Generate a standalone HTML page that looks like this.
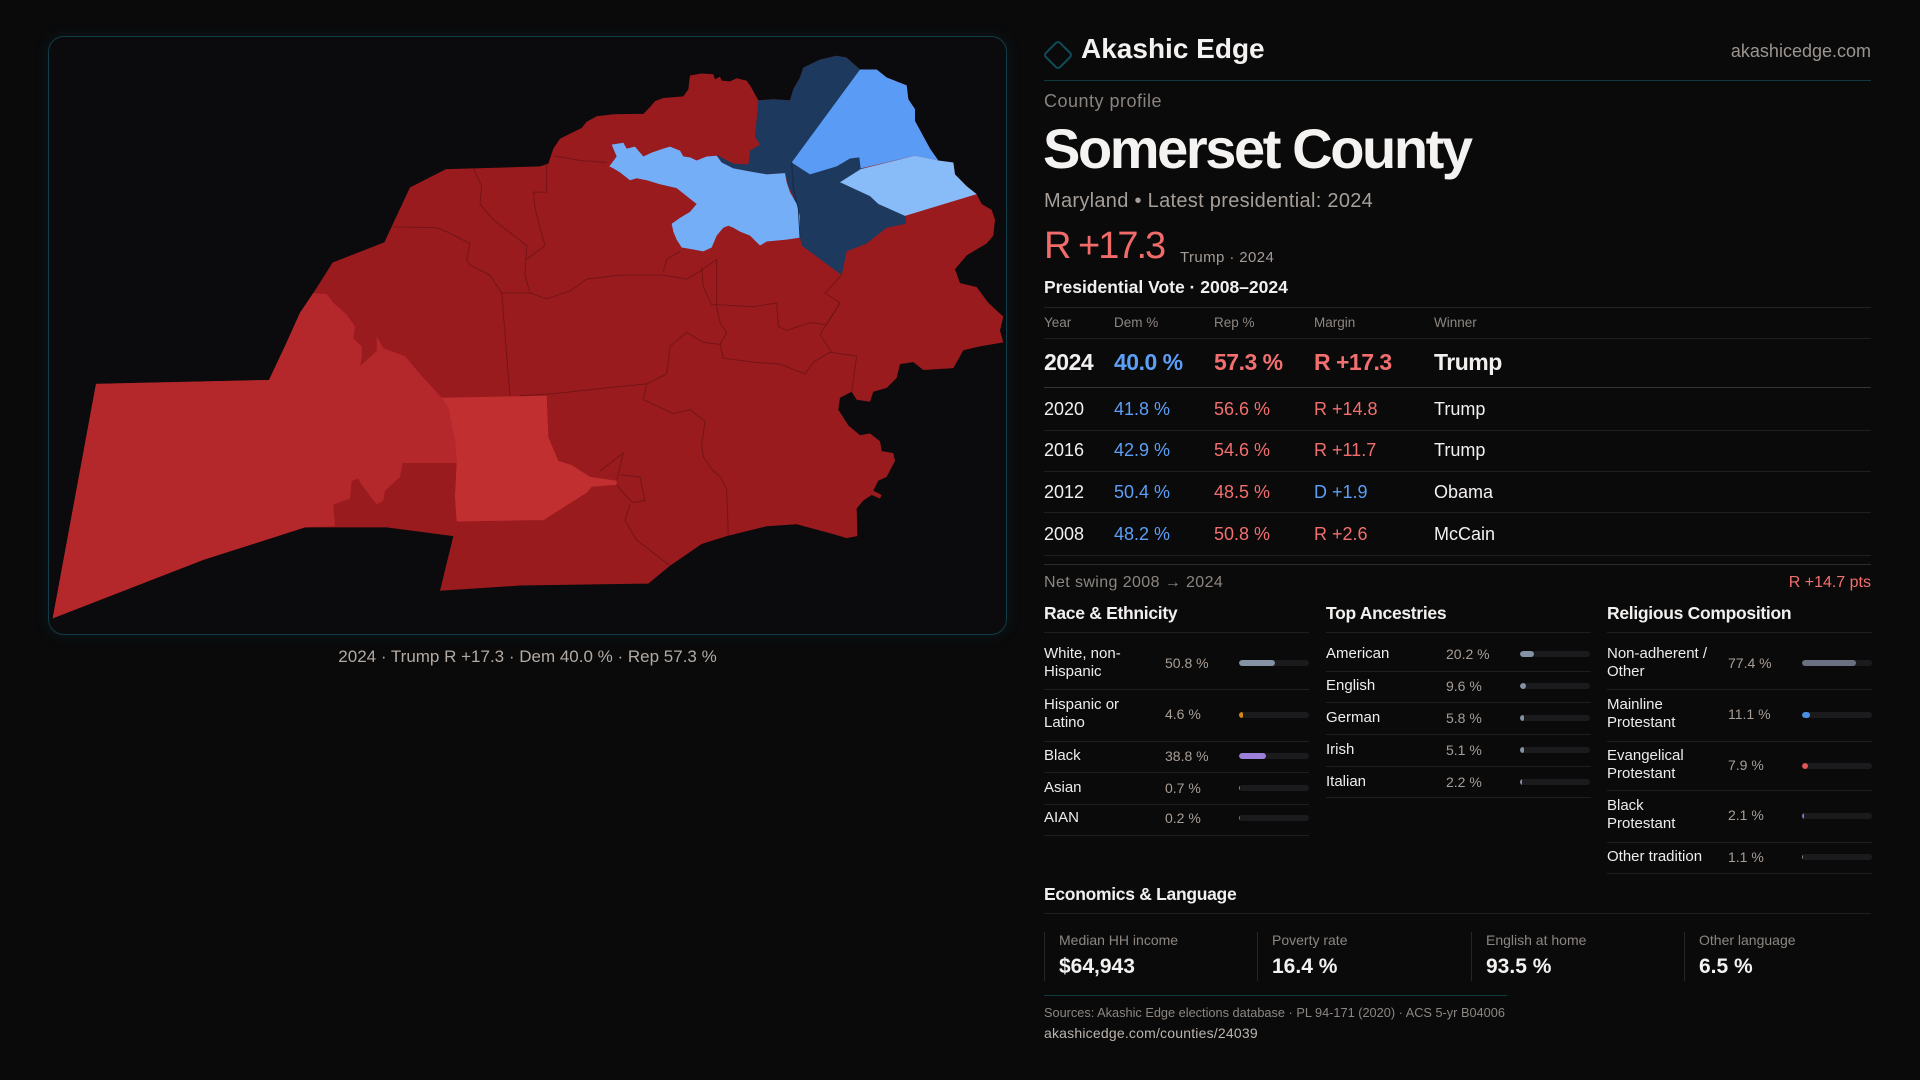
<!DOCTYPE html>
<html>
<head>
<meta charset="utf-8">
<style>
  html,body{margin:0;padding:0;}
  body{width:1920px;height:1080px;background:#0a0a0b;position:relative;overflow:hidden;font-family:"Liberation Sans",Arial,sans-serif;color:#f2f0ee;}
  .t{position:absolute;white-space:nowrap;line-height:1;}
  .hl{position:absolute;height:1px;}
  .panel{position:absolute;left:48px;top:36px;width:957px;height:597px;border:1px solid #103d47;border-radius:16px;background:#0b0a0c;box-shadow:0 0 14px rgba(16,70,80,0.25);}
  .hdr{font-size:13.5px;color:#8d8680;top:315.6px;}
  .r24{font-size:23px;font-weight:bold;top:350.5px;letter-spacing:-0.5px;}
  .row{font-size:18px;}
  .w{color:#f2f0ee;} .b{color:#5d9ff6;} .r{color:#f26f6f;}
  .sec{font-size:17.5px;font-weight:bold;color:#f2f0ee;letter-spacing:-0.3px;top:604.8px;}
  .lab{position:absolute;font-size:15px;line-height:18.5px;color:#efedeb;white-space:nowrap;}
  .val{position:absolute;font-size:14px;line-height:18.5px;color:#a89e96;white-space:nowrap;}
  .trk{position:absolute;width:70px;height:6px;border-radius:3px;background:#1b1b1e;overflow:hidden;}
  .fil{position:absolute;left:0;top:0;height:6px;border-radius:3px;}
  .sep{position:absolute;height:1px;width:265px;background:#1f1f21;}
  .card{position:absolute;top:932px;height:49px;width:1px;background:#262628;}
  .clab{font-size:14px;color:#8d8680;top:933px;}
  .cval{font-size:21px;font-weight:bold;color:#f4f2f0;top:956.2px;}
</style>
</head>
<body>

<div class="panel"></div>

<svg style="position:absolute;left:0;top:0" width="1920" height="1080" viewBox="0 0 1920 1080">
  <g transform="translate(40,30) scale(0.333333,0.395413)">
    <!-- base dark red -->
    <path fill="#991b1e" d="M38,1488 L168,895 L687,885 L740,790 L780,715 L820,665 L878,588 L1033,537 L1110,398 L1218,352 L1300,350 L1500,345 L1525,338 L1540,300 L1560,275 L1590,262 L1625,248 L1640,232 L1670,218 L1720,213 L1810,212 L1830,195 L1845,180 L1870,172 L1930,168 L1945,150 L1950,115 L1985,110 L2020,112 L2025,125 L2040,118 L2045,128 L2070,130 L2090,122 L2120,128 L2130,140 L2140,155 L2155,178 L2200,175 L2250,178 L2260,150 L2280,120 L2290,95 L2340,75 L2390,65 L2420,70 L2460,100 L2510,100 L2540,120 L2600,140 L2605,175 L2625,200 L2625,230 L2670,300 L2695,330 L2740,335 L2745,365 L2780,395 L2810,415 L2825,440 L2855,455 L2865,480 L2860,520 L2840,540 L2780,570 L2745,605 L2760,640 L2810,650 L2845,690 L2890,725 L2880,760 L2890,790 L2820,800 L2770,810 L2740,855 L2650,860 L2620,840 L2580,845 L2570,880 L2540,905 L2500,915 L2490,940 L2450,935 L2435,915 L2400,930 L2395,960 L2425,1000 L2460,1025 L2490,1020 L2520,1040 L2525,1065 L2560,1070 L2565,1090 L2540,1130 L2515,1140 L2500,1165 L2525,1176 L2520,1185 L2495,1176 L2470,1190 L2450,1210 L2452,1280 L2420,1285 L2380,1275 L2270,1250 L2180,1255 L2060,1280 L1985,1300 L1890,1355 L1825,1400 L1440,1405 L1200,1418 L1240,1280 L1040,1258 L795,1258 L490,1340 Z"/>
    <!-- medium red west -->
    <path fill="#b4282b" d="M38,1488 L168,895 L687,885 L740,790 L780,715 L820,665 L860,668 L880,690 L920,720 L945,750 L940,780 L965,800 L965,830 L960,850 L1010,812 L1010,775 L1030,805 L1095,825 L1140,870 L1205,930 L1225,955 L1245,1040 L1250,1095 L1088,1095 L1080,1130 L1035,1165 L1030,1190 L1010,1200 L965,1150 L955,1135 L935,1140 L930,1185 L880,1200 L885,1255 L795,1258 L490,1340 Z"/>
    <!-- light red center -->
    <path fill="#c22f31" d="M1205,930 L1520,925 L1525,1030 L1555,1090 L1595,1100 L1650,1130 L1730,1140 L1730,1150 L1655,1155 L1640,1170 L1510,1240 L1460,1240 L1250,1243 L1245,1180 L1250,1095 L1245,1040 L1225,955 Z"/>
    <!-- navy -->
    <path fill="#1e395e" d="M2155,178 L2200,175 L2250,178 L2260,150 L2280,120 L2290,95 L2340,75 L2390,65 L2420,70 L2460,100 L2470,380 L2595,450 L2598,490 L2540,500 L2480,540 L2420,560 L2405,620 L2285,545 L2280,525 L2275,460 L2260,420 L2245,395 L2235,362 L2180,365 L2130,358 L2080,350 L2045,335 L2030,315 L2050,325 L2080,338 L2125,340 L2130,305 L2160,290 L2145,270 Z"/>
    <!-- bright blue -->
    <path fill="#5a9bf5" d="M2460,100 L2510,100 L2540,120 L2600,140 L2605,175 L2625,200 L2625,230 L2670,300 L2695,330 L2625,318 L2462,350 L2458,322 L2430,325 L2390,345 L2310,365 L2255,335 Z"/>
    <!-- east light strip -->
    <path fill="#87bcf8" d="M2625,318 L2695,330 L2740,335 L2745,365 L2780,395 L2810,415 L2595,470 L2515,440 L2490,420 L2400,385 L2462,352 Z"/>
    <!-- river light blue -->
    <path fill="#73aef7" d="M1715,290 L1750,285 L1760,300 L1785,295 L1810,320 L1835,310 L1870,300 L1890,295 L1920,305 L1930,320 L1950,322 L1970,330 L2000,320 L2030,318 L2045,335 L2080,350 L2130,358 L2180,365 L2235,362 L2240,385 L2250,410 L2270,440 L2280,470 L2280,525 L2240,530 L2180,535 L2160,545 L2130,520 L2100,510 L2080,500 L2065,495 L2050,500 L2030,520 L2015,550 L1990,560 L1960,555 L1925,550 L1910,530 L1900,510 L1895,490 L1920,475 L1950,460 L1970,440 L1940,420 L1910,400 L1860,390 L1820,380 L1790,375 L1770,380 L1740,360 L1720,350 L1708,345 L1730,320 Z"/>
    <!-- internal boundaries -->
    <g fill="none" stroke="#6e1316" stroke-width="1" vector-effect="non-scaling-stroke" stroke-opacity="0.85">
      <path vector-effect="non-scaling-stroke" d="M1060,498 L1190,500 L1220,510 L1290,540 L1280,580 L1290,595 L1350,620 L1385,665 L1410,925"/>
      <path vector-effect="non-scaling-stroke" d="M1300,350 L1325,395 L1320,440 L1360,480 L1460,545 L1455,620 L1470,665 L1385,665"/>
      <path vector-effect="non-scaling-stroke" d="M1470,665 L1520,680 L1590,660 L1640,630 L1740,620 L1870,620 L1940,630 L1980,610 L2030,580"/>
      <path vector-effect="non-scaling-stroke" d="M1985,600 L1990,650 L2015,695 L2040,695 L2140,700 L2210,690 L2215,750 L2240,760 L2310,740 L2360,745 L2400,690 L2355,665 L2405,620"/>
      <path vector-effect="non-scaling-stroke" d="M2030,580 L2030,700 L2040,740 L2060,765 L2040,795 L2050,830 L2140,840 L2220,845 L2295,870 L2320,840 L2370,815 L2450,825 L2435,915"/>
      <path vector-effect="non-scaling-stroke" d="M1440,925 L1540,920 L1700,905 L1820,895 L1880,870 L1890,800 L1940,765 L1990,790 L2040,795"/>
      <path vector-effect="non-scaling-stroke" d="M1820,895 L1810,935 L1900,970 L1950,960 L1995,990 L1985,1050 L1990,1080 L2015,1110 L2040,1130 L2060,1160 L2065,1280"/>
      <path vector-effect="non-scaling-stroke" d="M1730,1140 L1750,1070 L1680,1115 M1730,1150 L1760,1180 L1780,1195 L1815,1190 L1800,1130 L1740,1125 M1770,1200 L1755,1240 L1790,1290 L1890,1355"/>
      <path vector-effect="non-scaling-stroke" d="M2400,690 L2340,770 L2375,815"/>
      <path vector-effect="non-scaling-stroke" d="M1540,318 L1620,330 L1700,335"/>
      <path vector-effect="non-scaling-stroke" d="M1520,338 L1520,410 L1480,410 L1485,450 L1500,500 L1515,545 L1460,580"/>
      <path vector-effect="non-scaling-stroke" d="M1870,610 L1880,580 L1920,560"/>
    </g>
    <path fill="none" stroke="#15294a" stroke-width="1" vector-effect="non-scaling-stroke" d="M2255,335 L2260,400 L2275,450 L2280,525"/>
  </g>
</svg>

<div class="t" style="left:48px;width:959px;text-align:center;top:647.6px;font-size:17px;color:#b3aaa3;">2024 · Trump R +17.3 · Dem 40.0 % · Rep 57.3 %</div>

<!-- Header -->
<svg style="position:absolute;left:1040px;top:37px" width="36" height="36" viewBox="0 0 36 36">
  <rect x="8" y="8" width="20" height="20" rx="3" ry="3" fill="none" stroke="#0f4c57" stroke-width="2" transform="rotate(45 18 18)"/>
</svg>
<div class="t" style="left:1081px;top:35.3px;font-size:28px;font-weight:bold;color:#f4f2f0;">Akashic Edge</div>
<div class="t" style="right:49px;top:41.8px;font-size:18px;color:#9c948e;">akashicedge.com</div>
<div class="hl" style="left:1044px;top:80px;width:827px;background:#0f3a42;"></div>

<div class="t" style="left:1044px;top:91.8px;font-size:18px;color:#8a837e;letter-spacing:0.5px;">County profile</div>
<div class="t" style="left:1043px;top:120.6px;font-size:56px;font-weight:bold;color:#f5f3f1;letter-spacing:-2.4px;">Somerset County</div>
<div class="t" style="left:1044px;top:191px;font-size:20px;color:#a69f99;letter-spacing:0.3px;">Maryland • Latest presidential: 2024</div>
<div class="t" style="left:1044px;top:226.8px;font-size:38px;color:#f16b6b;letter-spacing:-2px;">R +17.3</div>
<div class="t" style="left:1180px;top:250.3px;font-size:15px;color:#a39b95;letter-spacing:0.4px;">Trump · 2024</div>
<div class="t" style="left:1044px;top:279.2px;font-size:17.5px;font-weight:bold;color:#f2f0ee;">Presidential Vote · 2008–2024</div>
<div class="hl" style="left:1044px;top:307px;width:827px;background:#232325;"></div>

<!-- table header -->
<div class="t hdr" style="left:1044px;">Year</div>
<div class="t hdr" style="left:1114px;">Dem %</div>
<div class="t hdr" style="left:1214px;">Rep %</div>
<div class="t hdr" style="left:1314px;">Margin</div>
<div class="t hdr" style="left:1434px;">Winner</div>
<div class="hl" style="left:1044px;top:338px;width:827px;background:#202022;"></div>

<div class="t r24 w" style="left:1044px;">2024</div>
<div class="t r24 b" style="left:1114px;">40.0 %</div>
<div class="t r24 r" style="left:1214px;">57.3 %</div>
<div class="t r24 r" style="left:1314px;">R +17.3</div>
<div class="t r24 w" style="left:1434px;">Trump</div>
<div class="hl" style="left:1044px;top:387px;width:827px;background:#353537;"></div>

<div class="t row w" style="left:1044px;top:399.8px;">2020</div>
<div class="t row b" style="left:1114px;top:399.8px;">41.8 %</div>
<div class="t row r" style="left:1214px;top:399.8px;">56.6 %</div>
<div class="t row r" style="left:1314px;top:399.8px;">R +14.8</div>
<div class="t row w" style="left:1434px;top:399.8px;">Trump</div>
<div class="hl" style="left:1044px;top:430px;width:827px;background:#202022;"></div>

<div class="t row w" style="left:1044px;top:440.8px;">2016</div>
<div class="t row b" style="left:1114px;top:440.8px;">42.9 %</div>
<div class="t row r" style="left:1214px;top:440.8px;">54.6 %</div>
<div class="t row r" style="left:1314px;top:440.8px;">R +11.7</div>
<div class="t row w" style="left:1434px;top:440.8px;">Trump</div>
<div class="hl" style="left:1044px;top:471px;width:827px;background:#202022;"></div>

<div class="t row w" style="left:1044px;top:482.8px;">2012</div>
<div class="t row b" style="left:1114px;top:482.8px;">50.4 %</div>
<div class="t row r" style="left:1214px;top:482.8px;">48.5 %</div>
<div class="t row b" style="left:1314px;top:482.8px;">D +1.9</div>
<div class="t row w" style="left:1434px;top:482.8px;">Obama</div>
<div class="hl" style="left:1044px;top:512px;width:827px;background:#202022;"></div>

<div class="t row w" style="left:1044px;top:524.8px;">2008</div>
<div class="t row b" style="left:1114px;top:524.8px;">48.2 %</div>
<div class="t row r" style="left:1214px;top:524.8px;">50.8 %</div>
<div class="t row r" style="left:1314px;top:524.8px;">R +2.6</div>
<div class="t row w" style="left:1434px;top:524.8px;">McCain</div>
<div class="hl" style="left:1044px;top:555px;width:827px;background:#202022;"></div>
<div class="hl" style="left:1044px;top:564px;width:827px;background:#2c2c2e;"></div>

<div class="t" style="left:1044px;top:574.5px;font-size:16px;color:#8d8680;letter-spacing:0.4px;">Net swing 2008 → 2024</div>
<div class="t" style="right:49px;top:574.5px;font-size:16px;color:#f26f6f;">R +14.7 pts</div>

<!-- Section titles -->
<div class="t sec" style="left:1044px;">Race &amp; Ethnicity</div>
<div class="t sec" style="left:1326px;">Top Ancestries</div>
<div class="t sec" style="left:1607px;">Religious Composition</div>
<div class="sep" style="left:1044px;top:632px;"></div>
<div class="sep" style="left:1326px;top:632px;"></div>
<div class="sep" style="left:1607px;top:632px;"></div>

<!-- Race -->
<div class="lab" style="left:1044px;top:644.75px;">White, non-<br>Hispanic</div>
<div class="val" style="left:1165px;top:654px;">50.8 %</div>
<div class="trk" style="left:1239px;top:660px;"><div class="fil" style="width:36px;background:#8592a6;"></div></div>
<div class="sep" style="left:1044px;top:689px;"></div>

<div class="lab" style="left:1044px;top:695.75px;">Hispanic or<br>Latino</div>
<div class="val" style="left:1165px;top:705px;">4.6 %</div>
<div class="trk" style="left:1239px;top:712px;"><div class="fil" style="width:3.5px;background:#d4880f;"></div></div>
<div class="sep" style="left:1044px;top:741px;"></div>

<div class="lab" style="left:1044px;top:746.75px;">Black</div>
<div class="val" style="left:1165px;top:746.75px;">38.8 %</div>
<div class="trk" style="left:1239px;top:753px;"><div class="fil" style="width:27px;background:#9b7fd9;"></div></div>
<div class="sep" style="left:1044px;top:772px;"></div>

<div class="lab" style="left:1044px;top:778.75px;">Asian</div>
<div class="val" style="left:1165px;top:778.75px;">0.7 %</div>
<div class="trk" style="left:1239px;top:785px;"><div class="fil" style="width:1px;border-radius:0;background:#2bb39a;"></div></div>
<div class="sep" style="left:1044px;top:804px;"></div>

<div class="lab" style="left:1044px;top:808.75px;">AIAN</div>
<div class="val" style="left:1165px;top:808.75px;">0.2 %</div>
<div class="trk" style="left:1239px;top:815px;"><div class="fil" style="width:1px;border-radius:0;background:#c0651a;"></div></div>
<div class="sep" style="left:1044px;top:835px;"></div>

<!-- Ancestries -->
<div class="lab" style="left:1326px;top:644.75px;">American</div>
<div class="val" style="left:1446px;top:644.75px;">20.2 %</div>
<div class="trk" style="left:1520px;top:651px;"><div class="fil" style="width:14px;background:#8592a6;"></div></div>
<div class="sep" style="left:1326px;top:671px;"></div>

<div class="lab" style="left:1326px;top:676.75px;">English</div>
<div class="val" style="left:1446px;top:676.75px;">9.6 %</div>
<div class="trk" style="left:1520px;top:683px;"><div class="fil" style="width:6px;background:#8592a6;"></div></div>
<div class="sep" style="left:1326px;top:702px;"></div>

<div class="lab" style="left:1326px;top:708.75px;">German</div>
<div class="val" style="left:1446px;top:708.75px;">5.8 %</div>
<div class="trk" style="left:1520px;top:715px;"><div class="fil" style="width:4px;background:#8592a6;"></div></div>
<div class="sep" style="left:1326px;top:734px;"></div>

<div class="lab" style="left:1326px;top:740.75px;">Irish</div>
<div class="val" style="left:1446px;top:740.75px;">5.1 %</div>
<div class="trk" style="left:1520px;top:747px;"><div class="fil" style="width:3.5px;background:#8592a6;"></div></div>
<div class="sep" style="left:1326px;top:766px;"></div>

<div class="lab" style="left:1326px;top:772.75px;">Italian</div>
<div class="val" style="left:1446px;top:772.75px;">2.2 %</div>
<div class="trk" style="left:1520px;top:779px;"><div class="fil" style="width:1.5px;border-radius:0;background:#8592a6;"></div></div>
<div class="sep" style="left:1326px;top:797px;"></div>

<!-- Religion -->
<div class="lab" style="left:1607px;top:644.75px;">Non-adherent /<br>Other</div>
<div class="val" style="left:1728px;top:654px;">77.4 %</div>
<div class="trk" style="left:1802px;top:660px;"><div class="fil" style="width:54px;background:#6b7080;"></div></div>
<div class="sep" style="left:1607px;top:689px;"></div>

<div class="lab" style="left:1607px;top:695.75px;">Mainline<br>Protestant</div>
<div class="val" style="left:1728px;top:705px;">11.1 %</div>
<div class="trk" style="left:1802px;top:712px;"><div class="fil" style="width:8px;background:#4a8fe0;"></div></div>
<div class="sep" style="left:1607px;top:741px;"></div>

<div class="lab" style="left:1607px;top:746.75px;">Evangelical<br>Protestant</div>
<div class="val" style="left:1728px;top:756px;">7.9 %</div>
<div class="trk" style="left:1802px;top:763px;"><div class="fil" style="width:5.5px;background:#e05555;"></div></div>
<div class="sep" style="left:1607px;top:790px;"></div>

<div class="lab" style="left:1607px;top:796.75px;">Black<br>Protestant</div>
<div class="val" style="left:1728px;top:806px;">2.1 %</div>
<div class="trk" style="left:1802px;top:813px;"><div class="fil" style="width:1.5px;border-radius:0;background:#8b6fd6;"></div></div>
<div class="sep" style="left:1607px;top:842px;"></div>

<div class="lab" style="left:1607px;top:847.75px;">Other tradition</div>
<div class="val" style="left:1728px;top:847.75px;">1.1 %</div>
<div class="trk" style="left:1802px;top:854px;"><div class="fil" style="width:1px;border-radius:0;background:#8a8a8a;"></div></div>
<div class="sep" style="left:1607px;top:873px;"></div>

<!-- Economics -->
<div class="t sec" style="left:1044px;top:885.8px;">Economics &amp; Language</div>
<div class="hl" style="left:1044px;top:913px;width:827px;background:#202022;"></div>

<div class="card" style="left:1044px;"></div>
<div class="card" style="left:1257px;"></div>
<div class="card" style="left:1471px;"></div>
<div class="card" style="left:1684px;"></div>

<div class="t clab" style="left:1059px;">Median HH income</div>
<div class="t cval" style="left:1059px;">$64,943</div>
<div class="t clab" style="left:1272px;">Poverty rate</div>
<div class="t cval" style="left:1272px;">16.4 %</div>
<div class="t clab" style="left:1486px;">English at home</div>
<div class="t cval" style="left:1486px;">93.5 %</div>
<div class="t clab" style="left:1699px;">Other language</div>
<div class="t cval" style="left:1699px;">6.5 %</div>

<div class="hl" style="left:1044px;top:995px;width:463px;background:#0f3a42;"></div>
<div class="t" style="left:1044px;top:1007.2px;font-size:12.75px;color:#8d8680;">Sources: Akashic Edge elections database · PL 94-171 (2020) · ACS 5-yr B04006</div>
<div class="t" style="left:1044px;top:1026px;font-size:14px;color:#bcb4ad;letter-spacing:0.2px;">akashicedge.com/counties/24039</div>

</body>
</html>
